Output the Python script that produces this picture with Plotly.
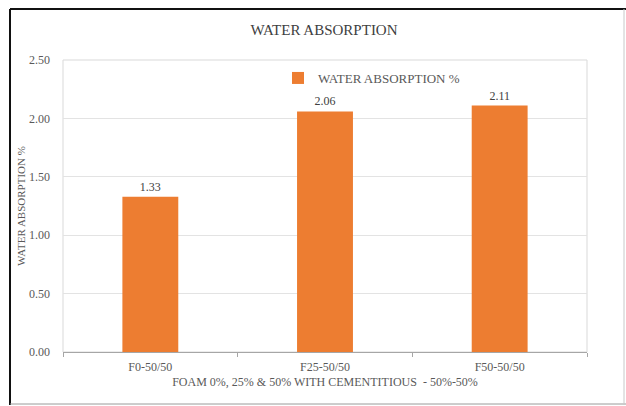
import plotly.graph_objects as go

categories = ["F0-50/50", "F25-50/50", "F50-50/50"]
values = [1.33, 2.06, 2.11]
value_labels = ["1.33", "2.06", "2.11"]
series_name = "WATER ABSORPTION %"
y_ticks = [0.0, 0.5, 1.0, 1.5, 2.0, 2.5]

W, H = 626, 406
L, R, T, B = 63, 587, 60, 352

def px(x):
    return (x - L) / (R - L)

def py(y):
    return (B - y) / (B - T)

FONT = "Liberation Serif, Times New Roman, serif"

fig = go.Figure()
fig.add_trace(go.Bar(
    x=categories, y=values, name=series_name,
    marker=dict(color="#ED7D31", line=dict(width=0)),
    text=value_labels, textposition="outside", cliponaxis=False,
    textfont=dict(family=FONT, size=12, color="#404040"),
    showlegend=True,
))

fig.update_layout(
    width=W, height=H,
    margin=dict(l=L, r=W - R, t=T, b=H - B),
    paper_bgcolor="white", plot_bgcolor="white",
    font=dict(family=FONT, color="#595959", size=12),
    bargap=0.68,
    title=dict(text="WATER ABSORPTION", x=324 / W, xanchor="center",
               y=1 - 30 / H, yanchor="middle",
               font=dict(family=FONT, size=15, color="#404040")),
    showlegend=True,
    legend=dict(x=px(278), y=py(78), xanchor="left", yanchor="middle",
                orientation="h", bgcolor="rgba(0,0,0,0)",
                font=dict(family=FONT, size=13, color="#595959"),
                itemwidth=30),
    xaxis=dict(showgrid=False, showline=True, linecolor="#A6A6A6", linewidth=1,
               ticks="outside", tickson="boundaries", ticklen=4, tickcolor="#A6A6A6",
               ticklabelstandoff=4,
               tickfont=dict(family=FONT, size=12, color="#595959"),
               title=dict(text="FOAM 0%, 25% & 50% WITH CEMENTITIOUS  - 50%-50%",
                          font=dict(family=FONT, size=12, color="#595959"), standoff=4)),
    yaxis=dict(range=[0, 2.5], tickvals=y_ticks, tickformat=".2f",
               showgrid=True, gridcolor="#E3E3E3", gridwidth=1,
               zeroline=False, showline=False, ticks="",
               ticklabelstandoff=12,
               tickfont=dict(family=FONT, size=12, color="#595959"),
               title=dict(text="WATER ABSORPTION %",
                          font=dict(family=FONT, size=11, color="#595959"), standoff=1)),
    shapes=[
        dict(type="rect", xref="paper", yref="paper", x0=0, x1=1, y0=0, y1=1,
             line=dict(color="#D9D9D9", width=1), fillcolor="rgba(0,0,0,0)", layer="below"),
        dict(type="line", xref="paper", yref="paper", x0=px(10), x1=px(626), y0=py(9), y1=py(9),
             line=dict(color="#111111", width=2)),
        dict(type="line", xref="paper", yref="paper", x0=px(10), x1=px(10), y0=py(9), y1=py(405),
             line=dict(color="#111111", width=2)),
        dict(type="line", xref="paper", yref="paper", x0=px(10), x1=px(626), y0=py(404), y1=py(404),
             line=dict(color="#9A9A9A", width=1)),
        dict(type="line", xref="paper", yref="paper", x0=px(624), x1=px(624), y0=py(9), y1=py(405),
             line=dict(color="#C8C8C8", width=1)),
    ],
)

fig.write_html("out.html", config={"displayModeBar": False},
               post_script="document.body.style.margin='0';document.body.style.padding='0';")
